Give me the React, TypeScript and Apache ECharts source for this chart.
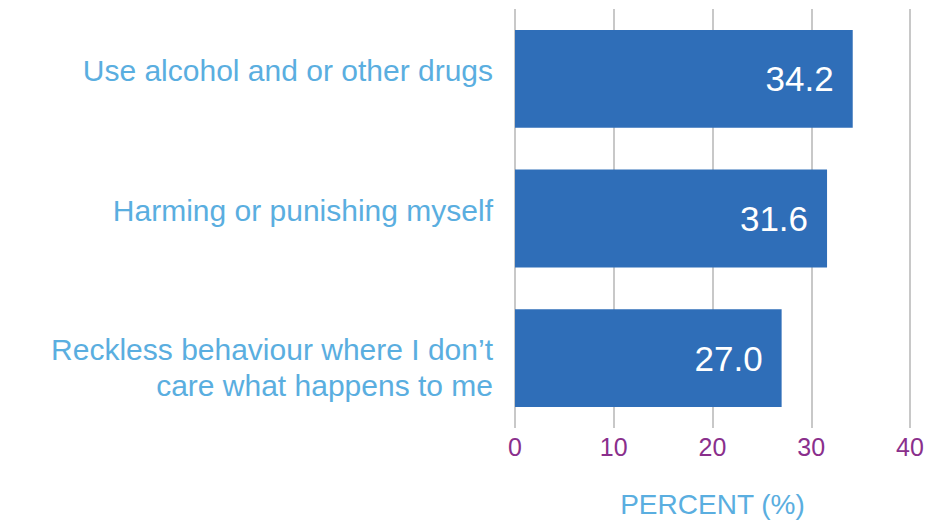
import React, { useEffect, useRef } from "react";
import * as echarts from "echarts";

const categories = [
  "Use alcohol and or other drugs",
  "Harming or punishing myself",
  "Reckless behaviour where I don\u2019t\ncare what happens to me",
];
const values = [34.2, 31.6, 27.0];
const xTicks = { min: 0, max: 40, interval: 10 };
const xTitle = "PERCENT (%)";

const FONT = "Liberation Sans, Arial, sans-serif";
const LABEL_BLUE = "#5aaee0";

export default function App() {
  const ref = useRef<HTMLDivElement>(null);
  useEffect(() => {
    if (!ref.current) return;
    const chart = echarts.init(ref.current, null, { renderer: "svg" });
    chart.setOption({
      animation: false,
      backgroundColor: "#ffffff",
      grid: { left: 515, right: 30, top: 9, height: 420, containLabel: false },
      xAxis: {
        type: "value",
        min: xTicks.min,
        max: xTicks.max,
        interval: xTicks.interval,
        axisLine: { show: false },
        axisTick: { show: false },
        splitLine: { show: true, lineStyle: { color: "#c8c8c8", width: 2 } },
        axisLabel: {
          color: "#8a2f8c",
          fontSize: 25,
          fontFamily: FONT,
          margin: 6,
        },
        name: xTitle,
        nameLocation: "middle",
        nameGap: 62,
        nameTextStyle: {
          color: LABEL_BLUE,
          fontSize: 28,
          fontFamily: FONT,
        },
      },
      yAxis: {
        type: "category",
        inverse: true,
        data: categories,
        axisLine: { show: false },
        axisTick: { show: false },
        axisLabel: {
          color: LABEL_BLUE,
          fontSize: 30,
          fontFamily: FONT,
          margin: 22,
          align: "right",
          formatter: (v: string) => {
            const parts = v.split("\n");
            if (parts.length === 1) return `{a|${v}}\n{s| }`;
            return `{t| }\n{c|${parts[0]}}\n{c|${parts[1]}}`;
          },
          rich: {
            a: { fontSize: 30, fontFamily: FONT, color: LABEL_BLUE, lineHeight: 34 },
            s: { fontSize: 10, lineHeight: 16 },
            t: { fontSize: 10, lineHeight: 18 },
            c: { fontSize: 30, fontFamily: FONT, color: LABEL_BLUE, lineHeight: 36 },
          },
        },
      },
      series: [
        {
          type: "bar",
          data: values,
          barCategoryGap: "30%",
          itemStyle: { color: "#2f6eb8" },
          label: {
            show: true,
            position: "insideRight",
            distance: 19,
            color: "#ffffff",
            fontSize: 35,
            fontFamily: FONT,
            formatter: (p: any) => Number(p.value).toFixed(1),
          },
        },
      ],
    });
    return () => chart.dispose();
  }, []);
  return <div ref={ref} style={{ width: 940, height: 523, marginLeft: -8, marginTop: -8 }} />;
}
